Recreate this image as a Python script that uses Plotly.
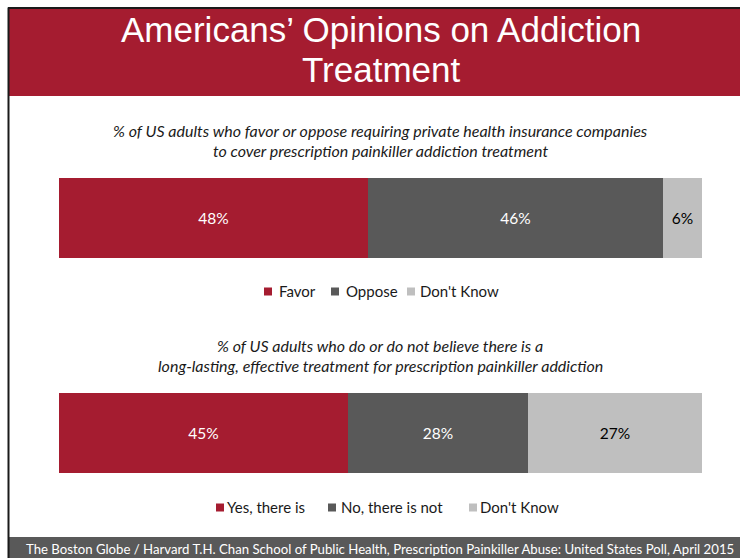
import plotly.graph_objects as go

# Survey results (percent of US adults)
q1_labels = ["Favor", "Oppose", "Don't Know"]
q1_values = [48, 46, 6]
q2_labels = ["Yes, there is", "No, there is not", "Don't Know"]
q2_values = [45, 28, 27]

colors = ["#A51C30", "#595959", "#BFBFBF"]
label_colors = ["white", "white", "black"]

title_lines = ["Americans\u2019 Opinions on Addiction", "Treatment"]
q1_caption = ["% of US adults who favor or oppose requiring private health insurance companies",
              "to cover prescription painkiller addiction treatment"]
q2_caption = ["% of US adults who do or do not believe there is a",
              "long-lasting, effective treatment for prescription painkiller addiction"]
source_note = ("The Boston Globe / Harvard T.H. Chan School of Public Health, "
               "Prescription Painkiller Abuse: United States Poll, April 2015")

W, H = 740, 558
BODY_FONT = "Lato"


def px(x):
    return x / W


def py(y):
    return 1 - y / H


fig = go.Figure()

for axis_id, labels, values in [("", q1_labels, q1_values), ("2", q2_labels, q2_values)]:
    for i, (lab, val) in enumerate(zip(labels, values)):
        fig.add_trace(go.Bar(
            x=[val], y=[0], orientation="h", name=lab,
            xaxis="x" + axis_id, yaxis="y" + axis_id,
            marker=dict(color=colors[i], line=dict(width=0)),
            width=1,
            text=[f"{val}%"], textposition="inside", insidetextanchor="middle",
            textangle=0, constraintext="none",
            textfont=dict(family=BODY_FONT, size=15.5, color=label_colors[i]),
            showlegend=False, hoverinfo="skip",
        ))

x_dom = [px(59), px(702)]
axis_common = dict(showgrid=False, zeroline=False, showticklabels=False, showline=False, ticks="")
fig.update_layout(
    width=W, height=H, margin=dict(l=0, r=0, t=0, b=0),
    paper_bgcolor="white", plot_bgcolor="rgba(0,0,0,0)",
    barmode="stack", bargap=0,
    xaxis=dict(domain=x_dom, range=[0, 100], anchor="y", **axis_common),
    yaxis=dict(domain=[py(258), py(178)], range=[-0.5, 0.5], anchor="x", **axis_common),
    xaxis2=dict(domain=x_dom, range=[0, 100], anchor="y2", **axis_common),
    yaxis2=dict(domain=[py(473), py(393)], range=[-0.5, 0.5], anchor="x2", **axis_common),
    uniformtext=dict(mode=False),
)

shapes = [
    # header band
    dict(type="rect", xref="paper", yref="paper", x0=px(9), x1=1, y0=py(96), y1=py(8.5),
         fillcolor="#A51C30", line=dict(width=0), layer="below"),
    # footer band
    dict(type="rect", xref="paper", yref="paper", x0=px(9), x1=1, y0=0, y1=py(537),
         fillcolor="#595959", line=dict(width=0), layer="below"),
    # frame lines
    dict(type="line", xref="paper", yref="paper", x0=px(8.5), x1=px(8.5), y0=0, y1=py(7.5),
         line=dict(color="#1a1a1a", width=2)),
    dict(type="line", xref="paper", yref="paper", x0=px(8), x1=1, y0=py(8), y1=py(8),
         line=dict(color="#1a1a1a", width=2)),
]

annotations = []
# title, two stacked lines
for text, yc in zip(title_lines, [29.5, 69]):
    annotations.append(dict(text=text, x=px(381), y=py(yc), xref="paper", yref="paper",
                            xanchor="center", yanchor="middle", showarrow=False,
                            font=dict(family="Liberation Sans", size=35, color="white")))
# captions
for lines, ys in [(q1_caption, [130, 150]), (q2_caption, [345, 365])]:
    for text, yc in zip(lines, ys):
        annotations.append(dict(text=f"<i>{text}</i>", x=px(380), y=py(yc), xref="paper",
                                yref="paper", xanchor="center", yanchor="middle",
                                showarrow=False,
                                font=dict(family=BODY_FONT, size=16, color="#1a1a1a")))

# legends: swatch left edge and text start for each entry
legend_rows = [
    (q1_labels, [264, 331, 407], [277, 344, 418], 291),
    (q2_labels, [216, 328, 469], [225, 339, 478], 507),
]
for labels, sw_x, tx_x, yc in legend_rows:
    for i, lab in enumerate(labels):
        shapes.append(dict(type="rect", xref="paper", yref="paper",
                           x0=px(sw_x[i]), x1=px(sw_x[i] + 8), y0=py(yc + 4.5), y1=py(yc - 3.5),
                           fillcolor=colors[i], line=dict(width=0)))
        annotations.append(dict(text=lab, x=px(tx_x[i]), y=py(yc), xref="paper", yref="paper",
                                xanchor="left", yanchor="middle", showarrow=False,
                                font=dict(family=BODY_FONT, size=15, color="#1a1a1a")))

# source note
annotations.append(dict(text=source_note, x=px(380), y=py(549), xref="paper", yref="paper",
                        xanchor="center", yanchor="middle", showarrow=False,
                        font=dict(family=BODY_FONT, size=13.2, color="white")))

fig.update_layout(shapes=shapes, annotations=annotations)
fig.write_html("out.html")
